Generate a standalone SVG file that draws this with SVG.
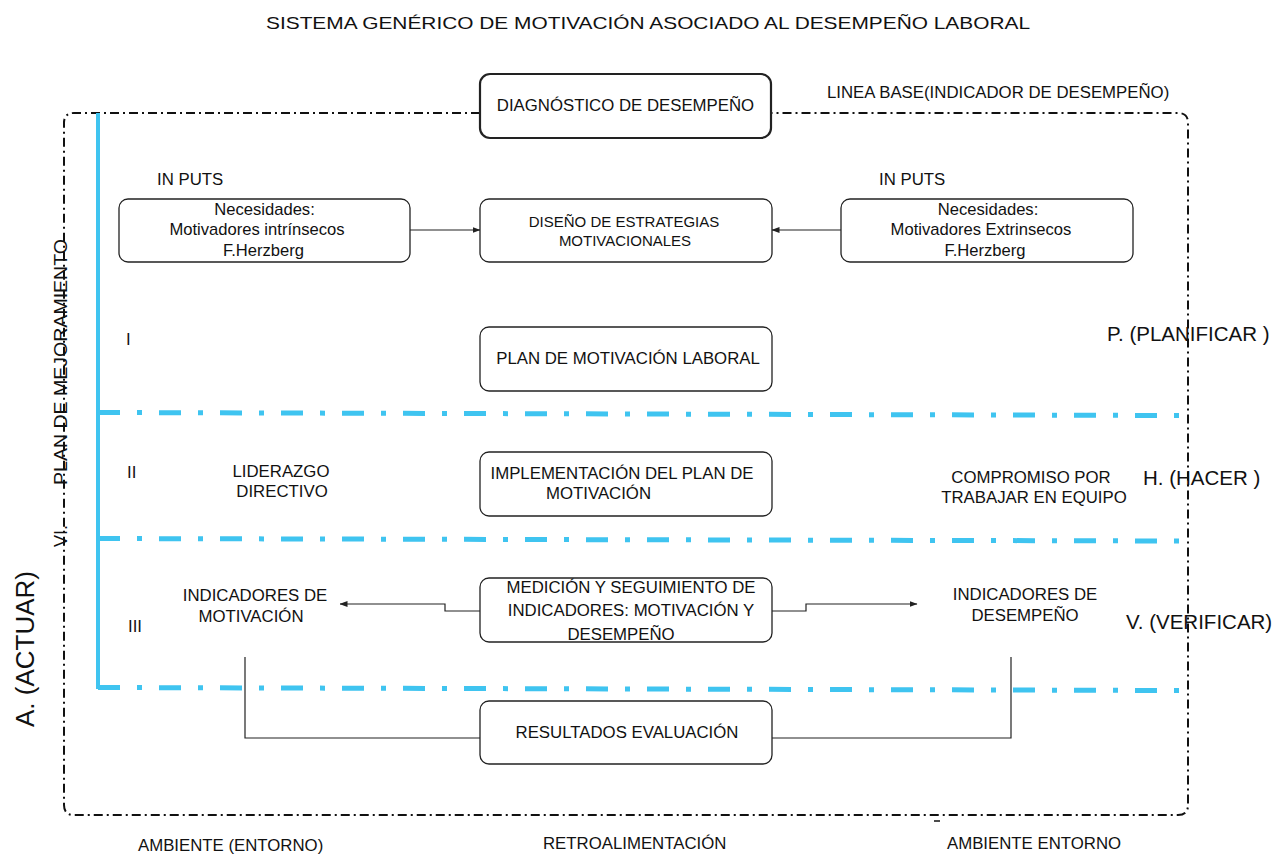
<svg xmlns="http://www.w3.org/2000/svg" width="1287" height="854" viewBox="0 0 1287 854">
<style>
text{font-family:"Liberation Sans",Arial,sans-serif;fill:#111;}
.t15{font-size:16.8px;}
.t14{font-size:16.6px;}
.t13{font-size:15px;}
.big{font-size:20.5px;}
.box{fill:#fff;stroke:#222;stroke-width:1.3;}
.boxb{fill:#fff;stroke:#222;stroke-width:2.2;}
.conn{fill:none;stroke:#222;stroke-width:1.2;}
.outline{fill:none;stroke:#111;stroke-width:2;stroke-dasharray:9 4 2 4;}
.blue{fill:none;stroke:#3fc4f0;stroke-width:5;stroke-dasharray:22 17 5 17;}
.bluev{fill:none;stroke:#3fc4f0;stroke-width:4;}
</style>
<defs>
<marker id="ah" markerWidth="8" markerHeight="6" refX="7.5" refY="3" orient="auto" markerUnits="userSpaceOnUse">
<path d="M0,0 L8,3 L0,6 z" fill="#222"/>
</marker>
</defs>
<rect width="1287" height="854" fill="#fff"/>
<text x="648" y="29" style="font-size:17px" text-anchor="middle" textLength="764" lengthAdjust="spacingAndGlyphs">SISTEMA GENÉRICO DE MOTIVACIÓN ASOCIADO AL DESEMPEÑO LABORAL</text>

<g id="outline">
<path class="outline" d="M480,113 L74,113 Q64,113 64,123 L64,805 Q64,815 74,815 L1178,815 Q1188,815 1188,805 L1188,123 Q1188,113 1178,113 L771,113"/>
<line x1="934" y1="821" x2="940" y2="821" stroke="#111" stroke-width="1.5"/>
</g>

<g id="phases">
<line class="bluev" x1="98" y1="113" x2="98" y2="689"/>
<line class="blue" x1="98" y1="412.5" x2="1179" y2="415.5"/>
<line class="blue" x1="98" y1="538.5" x2="1179" y2="541"/>
<line class="blue" x1="98" y1="687.5" x2="1179" y2="690.5"/>
</g>

<g id="connectors">
<line class="conn" x1="410" y1="230" x2="480" y2="230" marker-end="url(#ah)"/>
<line class="conn" x1="841" y1="230" x2="772" y2="230" marker-end="url(#ah)"/>
<polyline class="conn" points="480,611 445,611 445,604 340,604" marker-end="url(#ah)"/>
<polyline class="conn" points="772,611 806,611 806,604 917,604" marker-end="url(#ah)"/>
<polyline class="conn" points="245,657 245,738 480,738"/>
<polyline class="conn" points="1011,657 1011,738 772,738"/>
</g>

<g id="n-diagnostico">
<rect class="boxb" x="480" y="74" width="291" height="64" rx="10"/>
<text x="625.5" y="111" class="t15" text-anchor="middle">DIAGNÓSTICO DE DESEMPEÑO</text>
</g>
<g id="n-intrinsecos">
<rect class="box" x="119" y="199" width="291" height="63" rx="9"/>
<text x="264.5" y="215" class="t14" text-anchor="middle">Necesidades:</text>
<text x="257" y="235" class="t14" text-anchor="middle">Motivadores intrínsecos</text>
<text x="263.5" y="256" class="t14" text-anchor="middle">F.Herzberg</text>
</g>
<g id="n-diseno">
<rect class="box" x="480" y="199" width="292" height="63" rx="9"/>
<text x="624" y="227" class="t13" text-anchor="middle">DISEÑO DE ESTRATEGIAS</text>
<text x="625" y="246" class="t13" text-anchor="middle">MOTIVACIONALES</text>
</g>
<g id="n-extrinsecos">
<rect class="box" x="841" y="199" width="292" height="63" rx="9"/>
<text x="988" y="215" class="t14" text-anchor="middle">Necesidades:</text>
<text x="981" y="235" class="t14" text-anchor="middle">Motivadores Extrinsecos</text>
<text x="985" y="256" class="t14" text-anchor="middle">F.Herzberg</text>
</g>
<g id="n-plan">
<rect class="box" x="480" y="327" width="292" height="64" rx="9"/>
<text x="628" y="364" class="t15" text-anchor="middle">PLAN DE MOTIVACIÓN LABORAL</text>
</g>
<g id="n-implementacion">
<rect class="box" x="480" y="452" width="292" height="64" rx="9"/>
<text x="622" y="479" class="t15" text-anchor="middle">IMPLEMENTACIÓN DEL PLAN DE</text>
<text x="546" y="499" class="t15">MOTIVACIÓN</text>
</g>
<g id="n-medicion">
<rect class="box" x="480" y="578" width="292" height="64" rx="9"/>
<text x="631" y="593" class="t15" text-anchor="middle">MEDICIÓN Y SEGUIMIENTO DE</text>
<text x="631" y="616" class="t15" text-anchor="middle">INDICADORES: MOTIVACIÓN Y</text>
<text x="621" y="640" class="t15" text-anchor="middle">DESEMPEÑO</text>
</g>
<g id="n-resultados">
<rect class="box" x="480" y="701" width="292" height="63" rx="9"/>
<text x="627" y="738" class="t15" text-anchor="middle">RESULTADOS EVALUACIÓN</text>
</g>

<g id="labels">
<text x="157" y="185" class="t15">IN PUTS</text>
<text x="879" y="185" class="t15">IN PUTS</text>
<text x="827" y="98" class="t15">LINEA BASE(INDICADOR DE DESEMPEÑO)</text>
<text x="126" y="345" class="t15">I</text>
<text x="127" y="478" class="t15">II</text>
<text x="128" y="632" class="t15">III</text>
<text x="281" y="477" class="t15" text-anchor="middle">LIDERAZGO</text>
<text x="282" y="497" class="t15" text-anchor="middle">DIRECTIVO</text>
<text x="1031" y="483" class="t15" text-anchor="middle">COMPROMISO POR</text>
<text x="1034" y="503" class="t15" text-anchor="middle">TRABAJAR EN EQUIPO</text>
<text x="255" y="601" class="t15" text-anchor="middle">INDICADORES DE</text>
<text x="251" y="622" class="t15" text-anchor="middle">MOTIVACIÓN</text>
<text x="1025" y="600" class="t15" text-anchor="middle">INDICADORES DE</text>
<text x="1025" y="621" class="t15" text-anchor="middle">DESEMPEÑO</text>
<text x="1107" y="341" class="big">P. (PLANIFICAR )</text>
<text x="1143" y="485" class="big">H. (HACER )</text>
<text x="1126" y="629" class="big">V. (VERIFICAR)</text>
<text transform="translate(67,485) rotate(-90)" style="font-size:18px" textLength="246" lengthAdjust="spacingAndGlyphs">PLAN DE MEJORAMIENTO</text>
<text transform="translate(67,547) rotate(-90)" style="font-size:18px">VI.</text>
<text transform="translate(34,727) rotate(-90)" style="font-size:26px">A. (ACTUAR)</text>
<text x="138" y="851" class="t15">AMBIENTE (ENTORNO)</text>
<text x="543" y="849" class="t15">RETROALIMENTACIÓN</text>
<text x="947" y="849" class="t15">AMBIENTE ENTORNO</text>
</g>
</svg>
